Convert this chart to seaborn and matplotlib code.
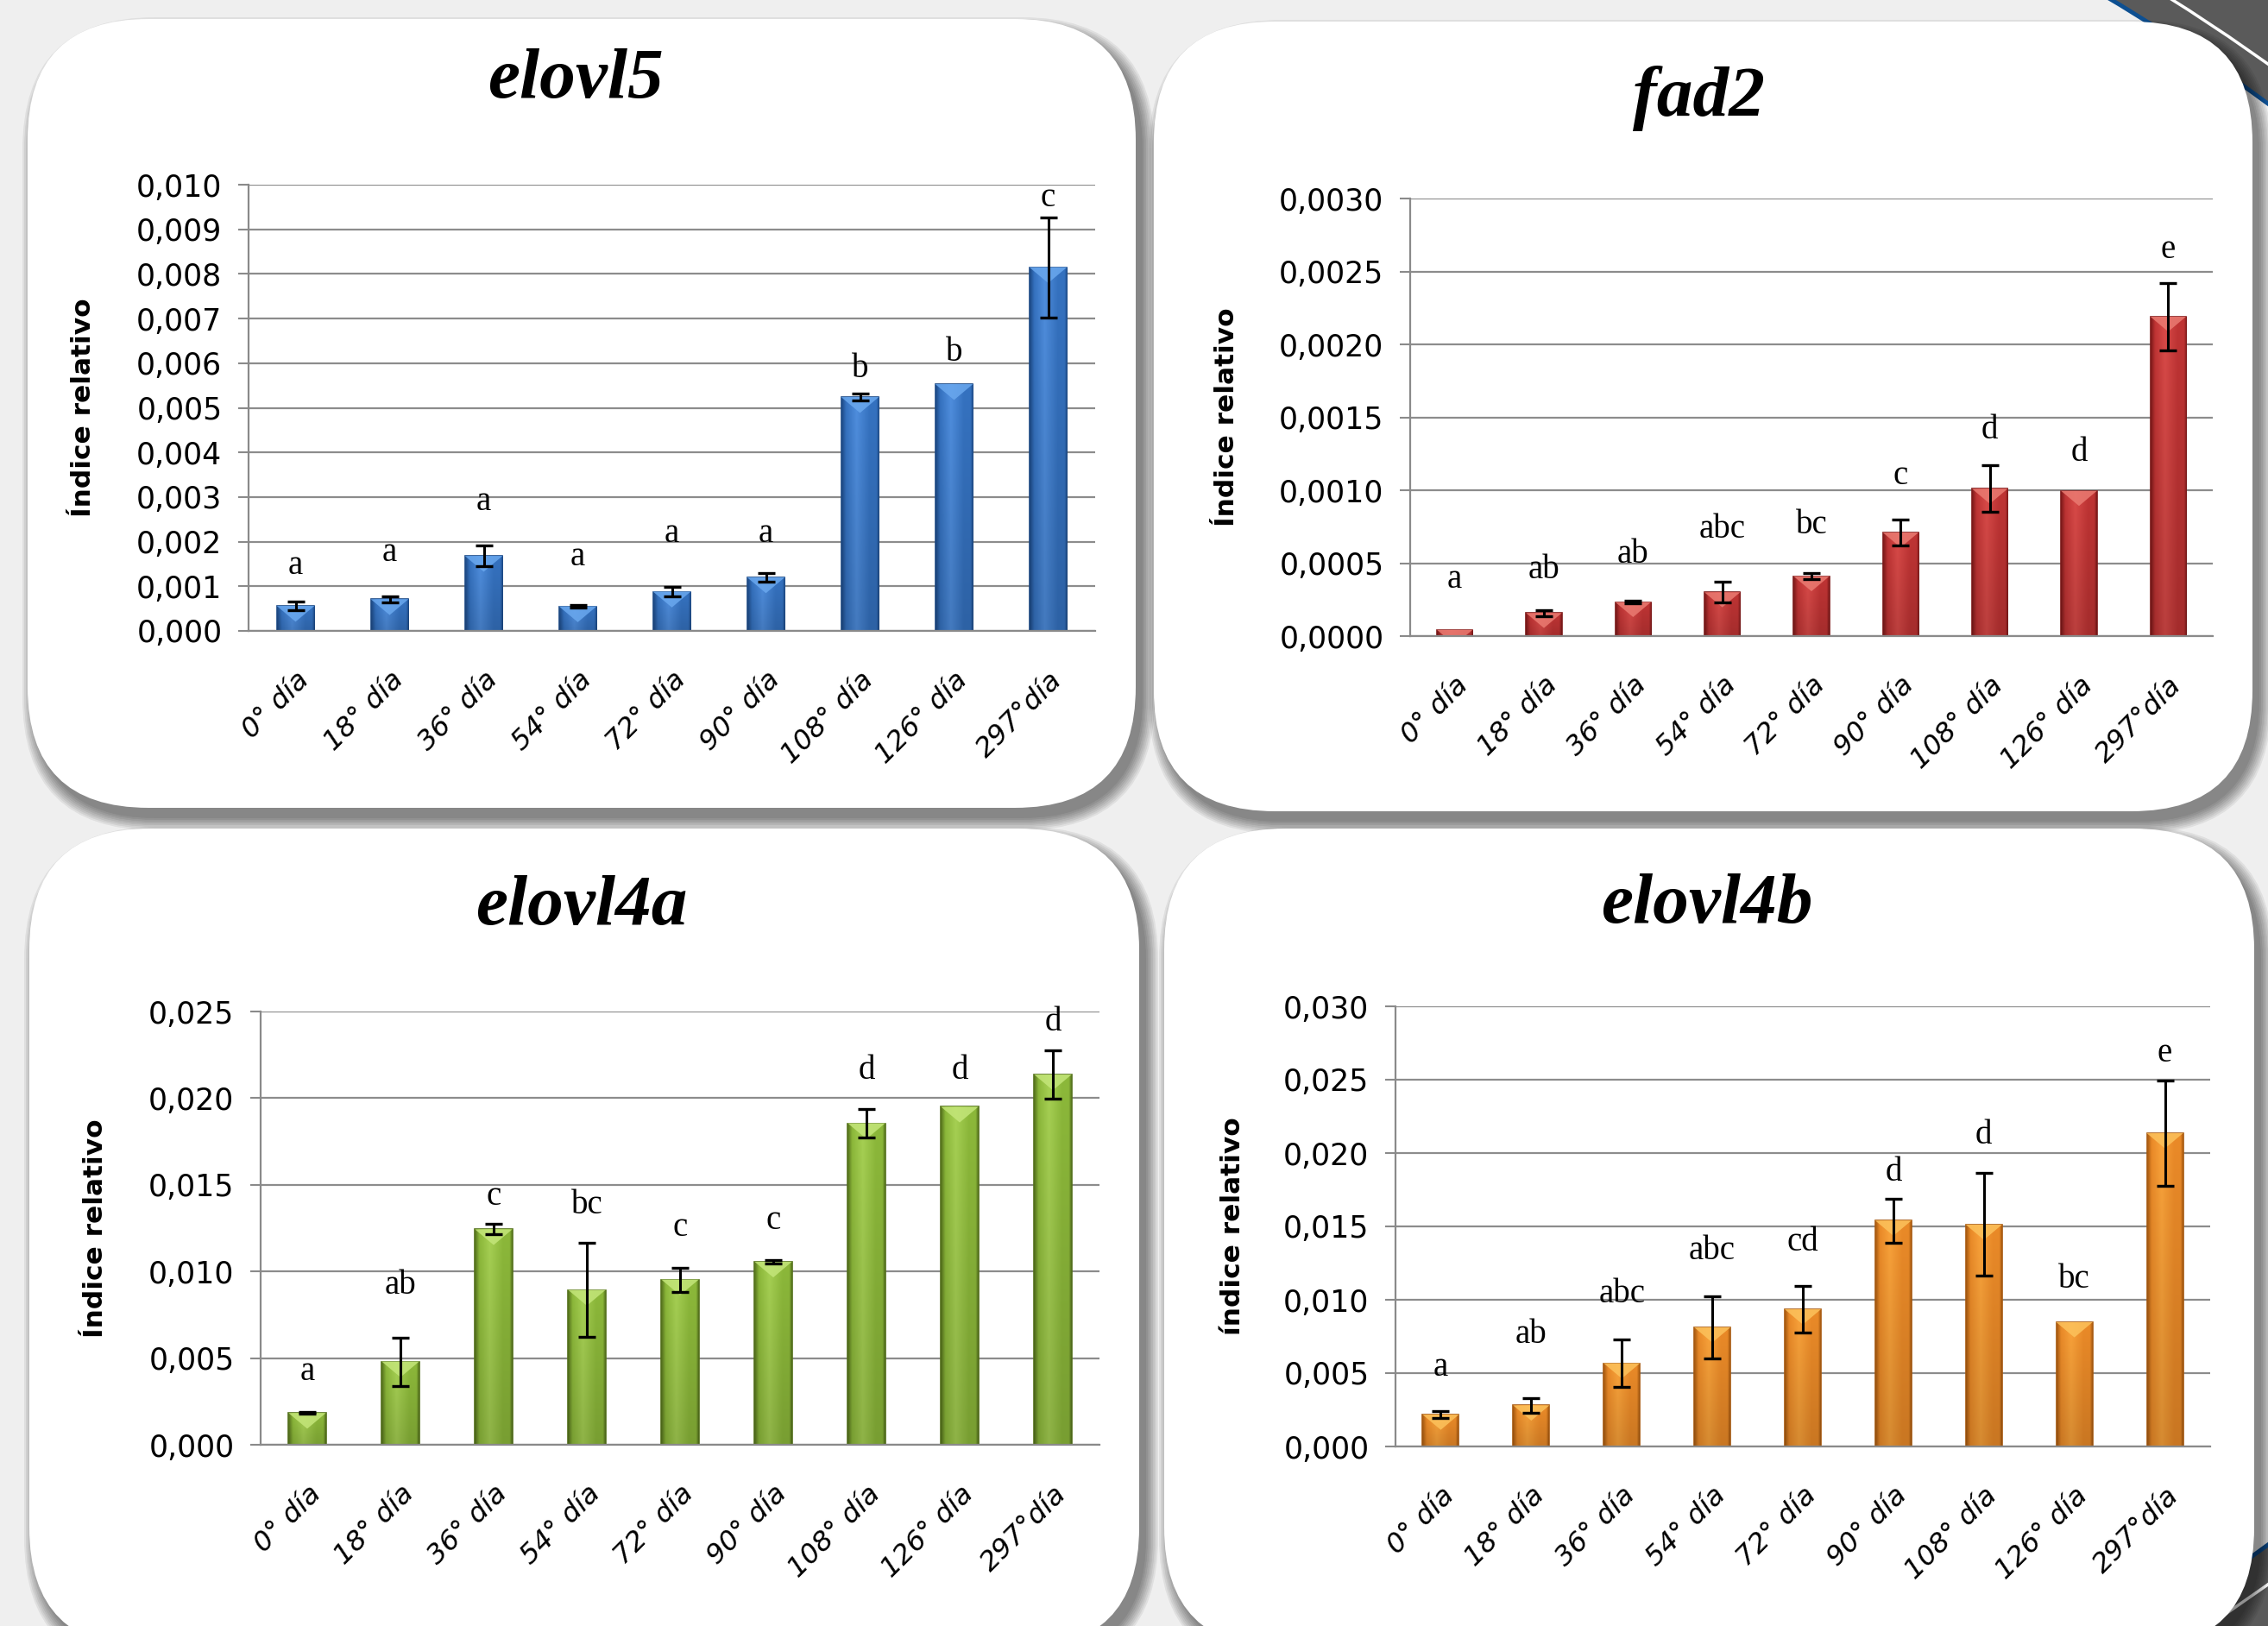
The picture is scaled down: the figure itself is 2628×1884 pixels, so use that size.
import numpy as np
import matplotlib
matplotlib.use("Agg")
import matplotlib.pyplot as plt
import seaborn as sns
from matplotlib.patches import FancyBboxPatch, Ellipse, Rectangle, Polygon
from matplotlib.colors import to_rgb

# categorias (dias de cultivo)
DIAS = ["0° día", "18° día", "36° día", "54° día", "72° día",
        "90° día", "108° día", "126° día", "297°día"]

# elovl5
ELOVL5_MEDIA = [0.00056, 0.00071, 0.00168, 0.00055, 0.00088, 0.00120, 0.00524, 0.00553, 0.00815]
ELOVL5_ERR = [0.00010, 0.00007, 0.00023, 0.00003, 0.00010, 0.00010, 0.00008, 0.0, 0.00112]
ELOVL5_LETRAS = ["a", "a", "a", "a", "a", "a", "b", "b", "c"]
ELOVL5_LETRA_Y = [0.00147, 0.00176, 0.00290, 0.00165, 0.00218, 0.00218, 0.00588, 0.00624, 0.00970]
ELOVL5_TICKS = [0.000, 0.001, 0.002, 0.003, 0.004, 0.005, 0.006, 0.007, 0.008, 0.009, 0.010]
ELOVL5_TICKLABELS = ["0,000", "0,001", "0,002", "0,003", "0,004", "0,005",
                     "0,006", "0,007", "0,008", "0,009", "0,010"]

# fad2
FAD2_MEDIA = [0.000043, 0.000158, 0.000233, 0.00030, 0.00041, 0.00071, 0.00101, 0.000995, 0.00219]
FAD2_ERR = [0.0, 0.00002, 0.00001, 0.00007, 0.00002, 0.00009, 0.00016, 0.0, 0.00023]
FAD2_LETRAS = ["a", "ab", "ab", "abc", "bc", "c", "d", "d", "e"]
FAD2_LETRA_Y = [0.00039, 0.00045, 0.00056, 0.00073, 0.00076, 0.00110, 0.00141, 0.00126, 0.00265]
FAD2_TICKS = [0.0, 0.0005, 0.0010, 0.0015, 0.0020, 0.0025, 0.0030]
FAD2_TICKLABELS = ["0,0000", "0,0005", "0,0010", "0,0015", "0,0020", "0,0025", "0,0030"]

# elovl4a
ELOVL4A_MEDIA = [0.00183, 0.00480, 0.01243, 0.00893, 0.00953, 0.01056, 0.01855, 0.01950, 0.02136]
ELOVL4A_ERR = [0.00005, 0.00140, 0.00030, 0.00270, 0.00070, 0.00010, 0.00080, 0.0, 0.00140]
ELOVL4A_LETRAS = ["a", "ab", "c", "bc", "c", "c", "d", "d", "d"]
ELOVL4A_LETRA_Y = [0.0042, 0.0092, 0.0143, 0.0138, 0.0125, 0.0129, 0.0216, 0.0216, 0.0244]
ELOVL4A_TICKS = [0.000, 0.005, 0.010, 0.015, 0.020, 0.025]
ELOVL4A_TICKLABELS = ["0,000", "0,005", "0,010", "0,015", "0,020", "0,025"]

# elovl4b
ELOVL4B_MEDIA = [0.00217, 0.00280, 0.00567, 0.00812, 0.00935, 0.01540, 0.01512, 0.00847, 0.02135]
ELOVL4B_ERR = [0.00025, 0.00050, 0.00160, 0.00210, 0.00160, 0.00150, 0.00350, 0.0, 0.00360]
ELOVL4B_LETRAS = ["a", "ab", "abc", "abc", "cd", "d", "d", "bc", "e"]
ELOVL4B_LETRA_Y = [0.0054, 0.0076, 0.0104, 0.0133, 0.0139, 0.0187, 0.0212, 0.0114, 0.0268]
ELOVL4B_TICKS = [0.000, 0.005, 0.010, 0.015, 0.020, 0.025, 0.030]
ELOVL4B_TICKLABELS = ["0,000", "0,005", "0,010", "0,015", "0,020", "0,025", "0,030"]

W, H = 2628, 1884  # tamaño en pixeles


def fr(x0, y0, x1, y1):
    # pixeles (origen arriba-izquierda) -> fraccion de figura
    return [x0 / W, 1 - y1 / H, (x1 - x0) / W, (y1 - y0) / H]


def pintar_barras(ax, oscuro, medio, claro, brillo):
    # degradado tipo Excel + triangulo claro arriba
    ppu_x = ax.bbox.width / 9.0
    y0l, y1l = ax.get_ylim()
    ppu_y = ax.bbox.height / (y1l - y0l)
    t = np.linspace(0, 1, 64)
    stops = [0, 0.12, 0.4, 0.75, 0.93, 1]
    cols = [to_rgb(c) for c in [oscuro, medio, claro, medio, medio, oscuro]]
    horiz = np.stack([np.interp(t, stops, [c[k] for c in cols]) for k in range(3)], axis=-1)
    vert = np.linspace(1.0, 0.86, 48)[:, None, None]
    img = np.clip(horiz[None, :, :] * vert, 0, 1)
    for p in list(ax.patches):
        x0, yb = p.get_x(), p.get_y()
        w, h = p.get_width(), p.get_height()
        im = ax.imshow(img, extent=[x0, x0 + w, yb, yb + h], origin="upper",
                       aspect="auto", interpolation="bilinear", zorder=1.1)
        im.set_clip_path(p)
        dh = 0.42 * w * ppu_x / ppu_y
        tri = Polygon([(x0, yb + h), (x0 + w, yb + h), (x0 + w / 2, yb + h - dh)],
                      closed=True, facecolor=brillo, edgecolor="none", alpha=0.85, zorder=1.2)
        tri.set_clip_path(p)
        ax.add_patch(tri)


def dibujar_panel(fig, rect, media, err, letras, letra_y, ticks, ticklabels,
                  colores, ylabel, ylab_x):
    ax = fig.add_axes(rect)
    oscuro, medio, claro, brillo = colores
    sns.barplot(x=DIAS, y=media, color=medio, saturation=1, width=0.4,
                errorbar=None, edgecolor=oscuro, linewidth=1.2, ax=ax)
    ax.set_xlim(-0.5, len(DIAS) - 0.5)
    ax.set_ylim(ticks[0], ticks[-1])
    pintar_barras(ax, oscuro, medio, claro, brillo)
    ax.set_xlim(-0.5, len(DIAS) - 0.5)
    ax.set_ylim(ticks[0], ticks[-1])

    # barras de error
    x = np.arange(len(DIAS))
    e = np.array(err)
    m = e > 0
    ax.errorbar(x[m], np.array(media)[m], yerr=e[m], fmt="none", ecolor="black",
                elinewidth=2.2, capsize=7, capthick=2.4, zorder=3)

    # letras de significancia
    for i, (let, yy) in enumerate(zip(letras, letra_y)):
        ax.text(i, yy, let, ha="center", va="center", fontsize=28,
                family="Liberation Serif", zorder=4)

    ax.set_yticks(ticks)
    ax.set_yticklabels(ticklabels, fontsize=25)
    ax.set_xticks(x)
    ax.set_xticklabels(DIAS, rotation=45, ha="right", rotation_mode="anchor",
                       fontsize=23, fontstyle="italic")
    ax.tick_params(axis="x", length=0, pad=30)
    ax.tick_params(axis="y", length=9, width=1.5, color="#8a8a8a", pad=13)
    ax.set_axisbelow(True)
    ax.yaxis.grid(True, color="#8c8c8c", linewidth=1.6)
    for s in ["top", "right"]:
        ax.spines[s].set_visible(False)
    for s in ["left", "bottom"]:
        ax.spines[s].set_color("#8a8a8a")
        ax.spines[s].set_linewidth(1.6)
    ax.set_facecolor("none")
    ax.set_xlabel("")
    ax.set_ylabel(ylabel, fontsize=22.5, fontweight="bold", va="center")
    ax.yaxis.set_label_coords(ylab_x, 0.5)
    return ax


def main():
    fig = plt.figure(figsize=(W / 100, H / 100), dpi=100)

    # fondo: gris claro, esquina derecha oscura con linea azul
    bg = fig.add_axes([0, 0, 1, 1], zorder=-10)
    bg.set_xlim(0, W)
    bg.set_ylim(H, 0)
    bg.axis("off")
    bg.add_patch(Rectangle((0, 0), W, H, facecolor="#5a5a5a", edgecolor="none"))
    bg.add_patch(Ellipse((0, 955), 2 * 3184, 2 * 1560, facecolor="none",
                         edgecolor="white", linewidth=2.5))
    bg.add_patch(Ellipse((0, 955), 2 * 3144, 2 * 1521, facecolor="#efefef",
                         edgecolor="#0d4f91", linewidth=3.5))

    paneles = [(32, 22, 1284, 914), (1337, 25, 1273, 915),
               (34, 960, 1286, 950), (1349, 960, 1263, 950)]
    for (px, py, pw, ph) in paneles:
        for k in range(8):
            bg.add_patch(FancyBboxPatch((px + 8 - k * 2, py + 12 - k * 2), pw + k * 4, ph + k * 4,
                                        boxstyle="round,pad=0,rounding_size=%d" % (140 + k * 2),
                                        facecolor="black", edgecolor="none", alpha=0.065))
    for (px, py, pw, ph) in paneles:
        bg.add_patch(FancyBboxPatch((px, py), pw, ph, boxstyle="round,pad=0,rounding_size=140",
                                    facecolor="white", edgecolor="none"))

    azul = ("#1d4a86", "#3572c0", "#4f8ede", "#6aa8ee")
    rojo = ("#7e1a1a", "#bf3434", "#d94a48", "#ea7b72")
    verde = ("#55721c", "#8cb83a", "#a6d053", "#c4e67a")
    naranja = ("#a85a10", "#ea8a28", "#f9a23a", "#fcc25c")

    dibujar_panel(fig, fr(288, 214, 1269, 731), ELOVL5_MEDIA, ELOVL5_ERR, ELOVL5_LETRAS,
                  ELOVL5_LETRA_Y, ELOVL5_TICKS, ELOVL5_TICKLABELS, azul,
                  "Índice relativo", -0.195)
    dibujar_panel(fig, fr(1634, 230, 2564, 737), FAD2_MEDIA, FAD2_ERR, FAD2_LETRAS,
                  FAD2_LETRA_Y, FAD2_TICKS, FAD2_TICKLABELS, rojo,
                  "Índice relativo", -0.229)
    dibujar_panel(fig, fr(302, 1172, 1274, 1674), ELOVL4A_MEDIA, ELOVL4A_ERR, ELOVL4A_LETRAS,
                  ELOVL4A_LETRA_Y, ELOVL4A_TICKS, ELOVL4A_TICKLABELS, verde,
                  "Índice relativo", -0.197)
    dibujar_panel(fig, fr(1617, 1166, 2561, 1676), ELOVL4B_MEDIA, ELOVL4B_ERR, ELOVL4B_LETRAS,
                  ELOVL4B_LETRA_Y, ELOVL4B_TICKS, ELOVL4B_TICKLABELS, naranja,
                  "índice relativo", -0.200)

    # titulos (nombres de genes)
    for nombre, cx, cy in [("elovl5", 667, 93), ("fad2", 1969, 114),
                           ("elovl4a", 674, 1052), ("elovl4b", 1978, 1050)]:
        fig.text(cx / W, 1 - cy / H, nombre, ha="center", va="center", fontsize=60,
                 family="Liberation Serif", fontweight="bold", fontstyle="italic")

    fig.savefig("out.png", dpi=100)


if __name__ == "__main__":
    main()
